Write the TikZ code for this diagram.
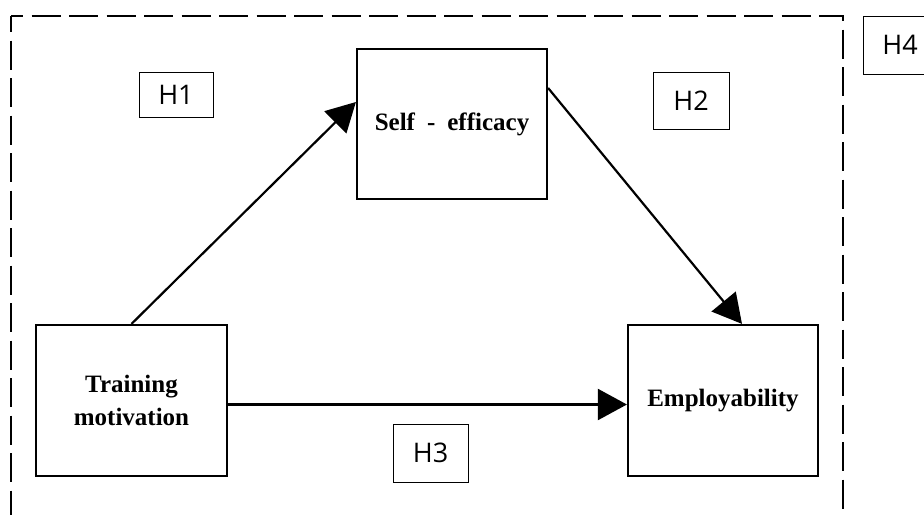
\documentclass[tikz,border=0pt]{standalone}
\usepackage{fontspec}
\setmainfont{Liberation Serif}
\newfontfamily\hypfont{Open Sans}
\usetikzlibrary{arrows.meta}
\begin{document}
\begin{tikzpicture}[x=1pt,y=-1pt,
  varbox/.style={draw,line width=2.2pt,rectangle,inner sep=0pt,align=center,
    font=\bfseries\fontsize{25}{33}\selectfont},
  hypbox/.style={draw,line width=1pt,rectangle,inner sep=0pt,
    font=\hypfont\fontsize{27}{30}\selectfont},
  path/.style={line width=2.2pt,-{Triangle[length=29pt,width=31pt]}},
  frame/.style={line width=2.2pt,dash pattern=on 29pt off 8.5pt}]
\useasboundingbox (0,0) rectangle (924,515);
\clip (0,0) rectangle (924,515);
% outer dashed frame around the mediation model
\coordinate (fbl) at (11,515);
\coordinate (ftl) at (11,16);
\coordinate (ftr) at (843,16);
\coordinate (fbr) at (843,515);
\draw[frame,dash phase=13pt] (ftl) -- (fbl);
\draw[frame,dash phase=17pt] (ftl) -- (ftr) -- (fbr);
% variables
\node[varbox,minimum width=190pt,minimum height=150pt] (self) at (452,124) {Self\hspace{12pt}-\hspace{12pt}efficacy};
\node[varbox,minimum width=191pt,minimum height=151pt] (train) at (131.5,400.5) {Training\\motivation};
\node[varbox,minimum width=190pt,minimum height=151pt] (emp) at (723,400.5) {Employability};
% hypothesis labels
\node[hypbox,minimum width=74pt,minimum height=45pt] (h1) at (176,94.5) {H1};
\node[hypbox,minimum width=76pt,minimum height=57pt] (h2) at (691,100.5) {H2};
\node[hypbox,minimum width=75pt,minimum height=58pt] (h3) at (430.5,453) {H3};
\node[hypbox,minimum width=74pt,minimum height=58pt] (h4) at (900,45) {H4};
% paths
\draw[path] (train.north) -- ([yshift=22pt]self.west);
\draw[path] ([yshift=36pt]self.east) -- ([xshift=19pt]emp.north);
\draw[path] ([yshift=-4pt]train.east) -- ([yshift=-4pt]emp.west);
\end{tikzpicture}
\end{document}
